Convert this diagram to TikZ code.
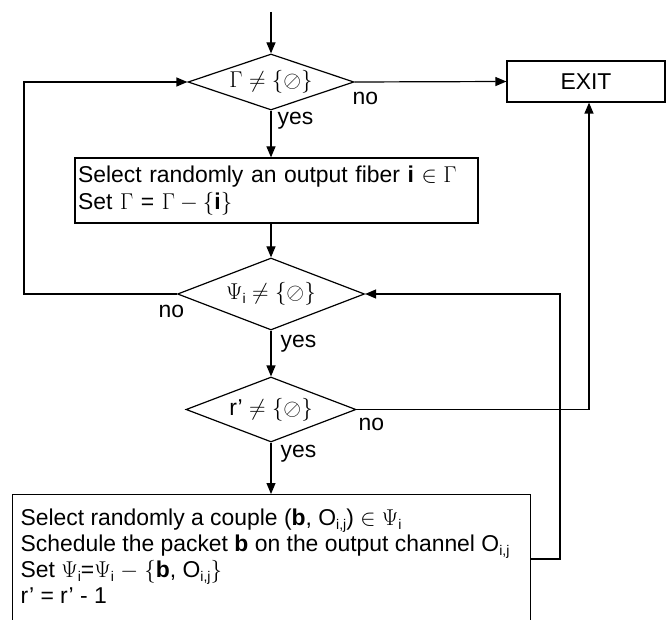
\RequirePackage{fix-cm}
\documentclass[tikz,border=0pt]{standalone}
\usepackage{fontspec}
\setmainfont{Liberation Sans}
\usetikzlibrary{shapes.geometric,arrows.meta}

% small sans subscript set low, as in the flowchart
\newcommand{\lsub}[1]{\raisebox{-4pt}{\fontsize{14}{14}\selectfont #1}}

\begin{document}
\begin{tikzpicture}[x=1pt,y=-1pt,
  line width=1.2pt,
  font=\fontsize{22.9}{27}\selectfont,
  arr/.style={-{Triangle[length=11pt,width=9pt]}},
  decision/.style={diamond,draw,inner sep=0pt,aspect=3},
  block/.style={rectangle,draw,inner sep=0pt},
  lbl/.style={anchor=base west,inner sep=0pt}]
\useasboundingbox (0,0) rectangle (666,620);
\clip (0,0) rectangle (666,620);

% decisions
\node[decision,minimum width=166pt,minimum height=56pt] (d1) at (271,82)
  {$\Gamma\neq\{\oslash\}$};
\node[decision,minimum width=187pt,minimum height=72pt] (d2) at (271,294)
  {$\Psi$\lsub{i} $\neq\{\oslash\}$};
\node[decision,minimum width=170pt,minimum height=65pt] (d3) at (271,409.5)
  {r’ $\neq\{\oslash\}$};

% exit
\node[block,minimum width=158pt,minimum height=41pt] (exit) at (586,81.5) {EXIT};

% first action block
\node[block,minimum width=403pt,minimum height=65pt,text width=397pt,
  inner xsep=3pt,align=left] (b1) at (276.5,190.5)
  {Select randomly an output fiber \textbf{i} $\in\Gamma$\\
   Set $\Gamma$ = $\Gamma-\{$\textbf{i}$\}$};

% second action block (runs off the bottom)
\node[block,anchor=north west,minimum width=518pt,minimum height=150pt] (b3) at (12,494) {};
\node[anchor=north west,inner sep=0pt,align=left,font=\fontsize{22.9}{26}\selectfont]
  (t3) at (20,508)
  {Select randomly a couple (\textbf{b}, O\lsub{i,j}) $\in\Psi$\lsub{i}\\
   Schedule the packet \textbf{b} on the output channel O\lsub{i,j}\\
   Set $\Psi$\lsub{i}=$\Psi$\lsub{i} $-$ $\{$\textbf{b}, O\lsub{i,j}$\}$\\
   r’ = r’ - 1};

% branch labels
\node[lbl] (no1) at (352,105) {no};
\node[lbl] (yes1) at (277,125) {yes};
\node[lbl] (no2) at (158,317) {no};
\node[lbl] (yes2) at (280,347) {yes};
\node[lbl] (no3) at (358,430) {no};
\node[lbl] (yes3) at (280,457) {yes};

% connectors
\coordinate (start) at (271,12);
\coordinate (loopL) at (24,82);
\coordinate (loopR) at (589,409.5);
\coordinate (back) at (560,559);

\draw[arr] (start) -- (d1.north);
\draw[arr] (d1.east) -- (exit.west);
\draw[arr] (d1.south) -- (d1.south |- b1.north);
\draw[arr] (d2.north |- b1.south) -- (d2.north);
\draw[arr] (d2.west) -| (loopL) -- (d1.west);
\draw[arr] (d2.south) -- (d3.north);
\draw[arr] (d3.east) -- (loopR) -- (loopR |- exit.south);
\draw[arr] (d3.south) -- (d3.south |- b3.north);
\draw[arr] (back -| b3.east) -- (back) |- (d2.east);
\end{tikzpicture}
\end{document}
